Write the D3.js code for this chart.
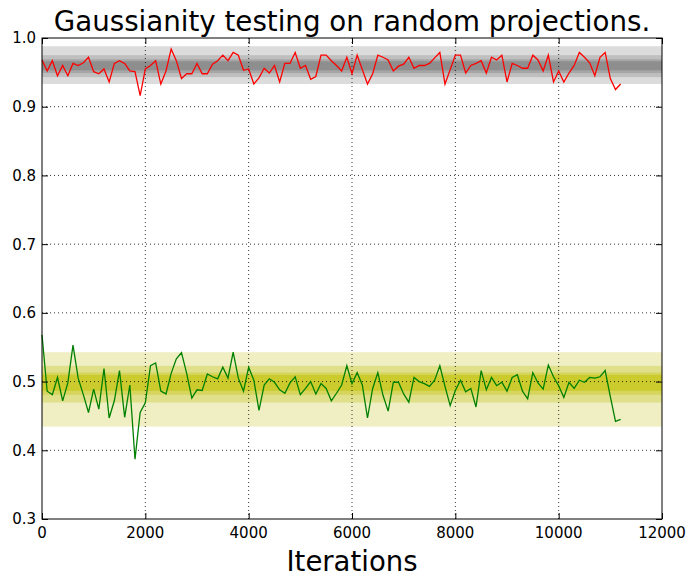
<!DOCTYPE html>
<html>
<head>
<meta charset="utf-8">
<script src="https://cdn.jsdelivr.net/npm/d3@7"></script>
<style>
    body { margin: 0; background: #fff; }
    text { font-family: "DejaVu Sans", sans-serif; }
</style>
</head>
<body>
<div id="chart"></div>
<script>
var iterations = [0, 100, 200, 300, 400, 500, 600, 700, 800, 900,
    1000, 1100, 1200, 1300, 1400, 1500, 1600, 1700, 1800, 1900,
    2000, 2100, 2200, 2300, 2400, 2500, 2600, 2700, 2800, 2900,
    3000, 3100, 3200, 3300, 3400, 3500, 3600, 3700, 3800, 3900,
    4000, 4100, 4200, 4300, 4400, 4500, 4600, 4700, 4800, 4900,
    5000, 5100, 5200, 5300, 5400, 5500, 5600, 5700, 5800, 5900,
    6000, 6100, 6200, 6300, 6400, 6500, 6600, 6700, 6800, 6900,
    7000, 7100, 7200, 7300, 7400, 7500, 7600, 7700, 7800, 7900,
    8000, 8100, 8200, 8300, 8400, 8500, 8600, 8700, 8800, 8900,
    9000, 9100, 9200, 9300, 9400, 9500, 9600, 9700, 9800, 9900,
    10000, 10100, 10200, 10300, 10400, 10500, 10600, 10700, 10800, 10900,
    11000, 11100, 11200];

var redValues = [0.968, 0.952, 0.967, 0.945, 0.960, 0.945, 0.963, 0.960, 0.964, 0.972,
    0.951, 0.948, 0.955, 0.936, 0.963, 0.967, 0.963, 0.952, 0.951, 0.916,
    0.955, 0.960, 0.967, 0.933, 0.952, 0.984, 0.967, 0.941, 0.948, 0.948,
    0.963, 0.948, 0.948, 0.962, 0.967, 0.975, 0.967, 0.979, 0.975, 0.953,
    0.955, 0.933, 0.942, 0.956, 0.949, 0.960, 0.936, 0.963, 0.963, 0.979,
    0.956, 0.960, 0.940, 0.944, 0.975, 0.975, 0.967, 0.960, 0.952, 0.972,
    0.948, 0.975, 0.954, 0.933, 0.948, 0.975, 0.972, 0.968, 0.952, 0.959,
    0.962, 0.972, 0.956, 0.960, 0.960, 0.963, 0.971, 0.979, 0.933, 0.954,
    0.975, 0.975, 0.949, 0.960, 0.963, 0.967, 0.949, 0.972, 0.968, 0.975,
    0.936, 0.963, 0.960, 0.956, 0.956, 0.975, 0.968, 0.952, 0.975, 0.936,
    0.952, 0.936, 0.949, 0.960, 0.979, 0.972, 0.964, 0.945, 0.972, 0.979,
    0.941, 0.925, 0.933];

var greenValues = [0.568, 0.486, 0.481, 0.506, 0.472, 0.498, 0.553, 0.505, 0.481, 0.455,
    0.489, 0.460, 0.519, 0.447, 0.472, 0.516, 0.448, 0.495, 0.387, 0.455,
    0.469, 0.523, 0.527, 0.486, 0.482, 0.512, 0.533, 0.542, 0.512, 0.476,
    0.488, 0.487, 0.511, 0.507, 0.504, 0.521, 0.505, 0.543, 0.505, 0.486,
    0.521, 0.502, 0.458, 0.495, 0.504, 0.499, 0.488, 0.483, 0.498, 0.507,
    0.481, 0.490, 0.500, 0.482, 0.497, 0.490, 0.472, 0.483, 0.495, 0.523,
    0.497, 0.513, 0.495, 0.447, 0.490, 0.513, 0.480, 0.457, 0.499, 0.499,
    0.482, 0.470, 0.506, 0.500, 0.497, 0.493, 0.502, 0.523, 0.493, 0.465,
    0.487, 0.502, 0.485, 0.490, 0.463, 0.516, 0.488, 0.506, 0.494, 0.499,
    0.486, 0.506, 0.510, 0.486, 0.475, 0.513, 0.498, 0.489, 0.524, 0.507,
    0.494, 0.477, 0.499, 0.490, 0.502, 0.499, 0.506, 0.505, 0.507, 0.516,
    0.478, 0.442, 0.445];

// nested quantile bands, outer to inner: [low, high]
var redBands = [[0.933, 0.988], [0.943, 0.975], [0.949, 0.969], [0.953, 0.966]];
var greenBands = [[0.4345, 0.5427], [0.4695, 0.5229], [0.4807, 0.5131], [0.4865, 0.5097]];

var xTicks = [0, 2000, 4000, 6000, 8000, 10000, 12000];
var yTicks = [0.3, 0.4, 0.5, 0.6, 0.7, 0.8, 0.9, 1.0];

var titleText = 'Gaussianity testing on random projections.';
var xLabelText = 'Iterations';

var width = 698, height = 587;
var margin = { left: 42, right: 36, top: 38, bottom: 68 };
var grayFills = ['#dcdcdc', '#bfbfbf', '#a6a6a6', '#8e8e8e'];
var yellowFills = ['#efefc3', '#e0e08a', '#d6d65e', '#cbcb2e'];

var svg = d3.select('#chart').append('svg')
    .attr('width', width)
    .attr('height', height);

var x = d3.scaleLinear()
    .domain([0, 12000])
    .range([margin.left, width - margin.right]);
var y = d3.scaleLinear()
    .domain([0.3, 1.0])
    .range([height - margin.bottom, margin.top]);

var g = svg.append('g');

// bands
function drawBands(bands, fills) {
    g.selectAll(null)
        .data(bands)
        .enter().append('rect')
        .attr('x', x(0))
        .attr('width', x(12000) - x(0))
        .attr('y', function(d) { return y(d[1]); })
        .attr('height', function(d) { return y(d[0]) - y(d[1]); })
        .style('fill', function(d, i) { return fills[i]; });
}
drawBands(redBands, grayFills);
drawBands(greenBands, yellowFills);

// grid
g.selectAll('line.gx')
    .data(xTicks.slice(1, -1))
    .enter().append('line')
    .attr('class', 'gx')
    .attr('x1', function(d) { return x(d); })
    .attr('x2', function(d) { return x(d); })
    .attr('y1', y(0.3))
    .attr('y2', y(1.0))
    .style('stroke', '#000')
    .style('stroke-width', 0.8)
    .style('stroke-dasharray', '1,3');
g.selectAll('line.gy')
    .data(yTicks.slice(1, -1))
    .enter().append('line')
    .attr('class', 'gy')
    .attr('y1', function(d) { return y(d); })
    .attr('y2', function(d) { return y(d); })
    .attr('x1', x(0))
    .attr('x2', x(12000))
    .style('stroke', '#000')
    .style('stroke-width', 0.8)
    .style('stroke-dasharray', '1,3');

var line = d3.line()
    .x(function(d, i) { return x(iterations[i]); })
    .y(function(d) { return y(d); });

g.append('path')
    .datum(redValues)
    .attr('d', line)
    .style('fill', 'none')
    .style('stroke', '#ff0000')
    .style('stroke-width', 1.3);
g.append('path')
    .datum(greenValues)
    .attr('d', line)
    .style('fill', 'none')
    .style('stroke', '#008000')
    .style('stroke-width', 1.3);

// axes, ticks pointing inward on all four sides
var tickLen = 6;
svg.append('g')
    .attr('transform', 'translate(0,' + y(0.3) + ')')
    .call(d3.axisTop(x).tickValues(xTicks).tickSize(tickLen).tickFormat(''))
    .call(function(a) { a.select('.domain').remove(); });
svg.append('g')
    .attr('transform', 'translate(0,' + y(1.0) + ')')
    .call(d3.axisBottom(x).tickValues(xTicks).tickSize(tickLen).tickFormat(''))
    .call(function(a) { a.select('.domain').remove(); });
svg.append('g')
    .attr('transform', 'translate(' + x(0) + ',0)')
    .call(d3.axisRight(y).tickValues(yTicks).tickSize(tickLen).tickFormat(''))
    .call(function(a) { a.select('.domain').remove(); });
svg.append('g')
    .attr('transform', 'translate(' + x(12000) + ',0)')
    .call(d3.axisLeft(y).tickValues(yTicks).tickSize(tickLen).tickFormat(''))
    .call(function(a) { a.select('.domain').remove(); });

svg.append('rect')
    .attr('x', x(0))
    .attr('y', y(1.0))
    .attr('width', x(12000) - x(0))
    .attr('height', y(0.3) - y(1.0))
    .style('fill', 'none')
    .style('stroke', '#000')
    .style('stroke-width', 1);

// tick labels
svg.selectAll('text.xt')
    .data(xTicks)
    .enter().append('text')
    .attr('class', 'xt')
    .attr('x', function(d) { return x(d); })
    .attr('y', y(0.3) + 19)
    .attr('text-anchor', 'middle')
    .style('font-size', '15px')
    .text(function(d) { return d; });
svg.selectAll('text.yt')
    .data(yTicks)
    .enter().append('text')
    .attr('class', 'yt')
    .attr('x', x(0) - 6)
    .attr('y', function(d) { return y(d); })
    .attr('dy', '0.36em')
    .attr('text-anchor', 'end')
    .style('font-size', '15px')
    .text(function(d) { return d3.format('.1f')(d); });

svg.append('text')
    .attr('x', (x(0) + x(12000)) / 2)
    .attr('y', 31)
    .attr('text-anchor', 'middle')
    .style('font-size', '27.7px')
    .text(titleText);
svg.append('text')
    .attr('x', (x(0) + x(12000)) / 2)
    .attr('y', 571)
    .attr('text-anchor', 'middle')
    .style('font-size', '27.5px')
    .text(xLabelText);
</script>
</body>
</html>
